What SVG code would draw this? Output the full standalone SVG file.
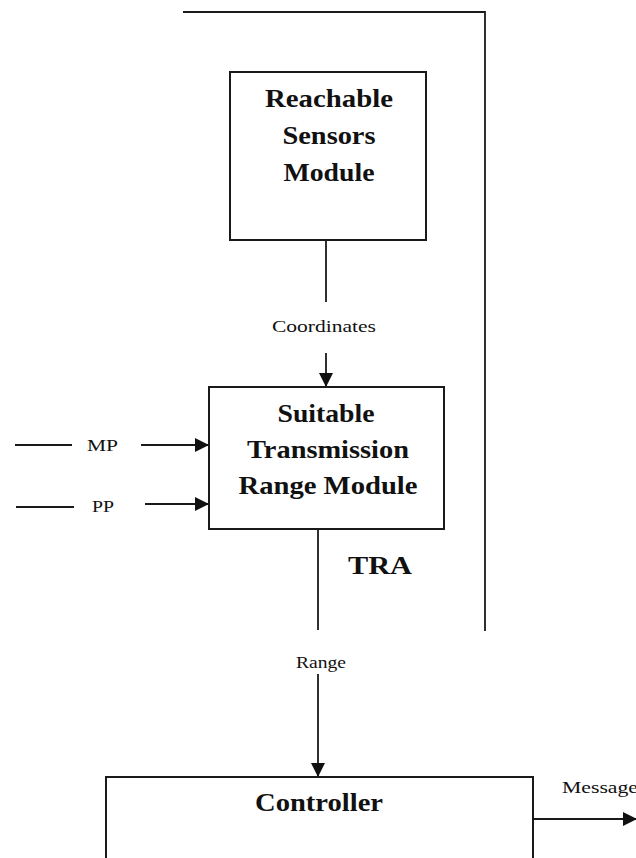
<svg xmlns="http://www.w3.org/2000/svg" width="636" height="858" viewBox="0 0 636 858">
<defs>
<marker id="ah" markerWidth="14" markerHeight="14" refX="13" refY="7" orient="auto" markerUnits="userSpaceOnUse">
<path d="M0,0 L14,7 L0,14 Z" fill="#111"/>
</marker>
<style>
.ln{stroke:#1a1a1a;stroke-width:1.8;fill:none}
.box{stroke:#1a1a1a;stroke-width:2;fill:#fff}
.t{font-family:"Liberation Serif","Times New Roman",serif;font-weight:bold;font-size:26px;fill:#111;text-anchor:middle}
.l{font-family:"Liberation Serif","Times New Roman",serif;font-size:17px;fill:#111}
</style>
</defs>
<rect width="636" height="858" fill="#fff"/>
<g id="connectors">
<path class="ln" d="M183,12 H485 V631"/>
<path class="ln" d="M326,240 V302"/>
<path class="ln" d="M326,353 V386" marker-end="url(#ah)"/>
<path class="ln" d="M15,445 H72"/>
<path class="ln" d="M141,445 H208" marker-end="url(#ah)"/>
<path class="ln" d="M16,507 H74"/>
<path class="ln" d="M145,504 H208" marker-end="url(#ah)"/>
<path class="ln" d="M318,529 V630"/>
<path class="ln" d="M318,674 V776" marker-end="url(#ah)"/>
<path class="ln" d="M533,819 H636" marker-end="url(#ah)"/>
<text class="l" x="272" y="332" textLength="104" lengthAdjust="spacingAndGlyphs">Coordinates</text>
<text class="l" x="87" y="451" textLength="31" lengthAdjust="spacingAndGlyphs">MP</text>
<text class="l" x="92" y="512" textLength="22" lengthAdjust="spacingAndGlyphs">PP</text>
<text class="l" x="296" y="668" textLength="50" lengthAdjust="spacingAndGlyphs">Range</text>
<text class="l" x="562" y="793" textLength="76" lengthAdjust="spacingAndGlyphs">Message</text>
</g>
<g id="reachable">
<rect class="box" x="230" y="72" width="196" height="168"/>
<text class="t" x="329" y="107" textLength="128" lengthAdjust="spacingAndGlyphs">Reachable</text>
<text class="t" x="329" y="144" textLength="93" lengthAdjust="spacingAndGlyphs">Sensors</text>
<text class="t" x="329" y="181" textLength="91" lengthAdjust="spacingAndGlyphs">Module</text>
</g>
<g id="strm">
<rect class="box" x="209" y="387" width="235" height="142"/>
<text class="t" x="326" y="422" textLength="97" lengthAdjust="spacingAndGlyphs">Suitable</text>
<text class="t" x="328" y="458" textLength="162" lengthAdjust="spacingAndGlyphs">Transmission</text>
<text class="t" x="328" y="494" textLength="179" lengthAdjust="spacingAndGlyphs">Range Module</text>
</g>
<g id="tra">
<text class="t" x="380" y="574" textLength="64" lengthAdjust="spacingAndGlyphs">TRA</text>
</g>
<g id="controller">
<rect class="box" x="106" y="777" width="427" height="100"/>
<text class="t" x="319" y="811" textLength="128" lengthAdjust="spacingAndGlyphs">Controller</text>
</g>
</svg>
